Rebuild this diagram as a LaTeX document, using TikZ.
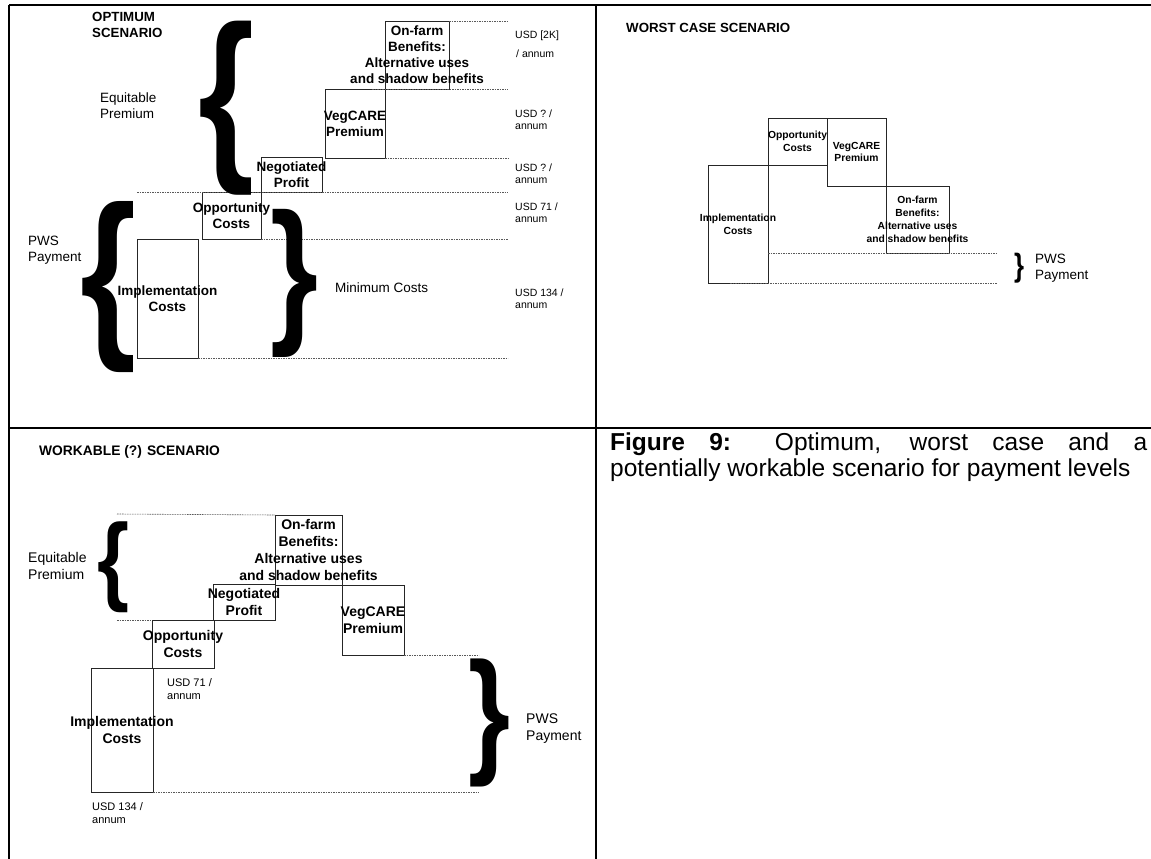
\documentclass[tikz,border=0pt]{standalone}
\usepackage{fontspec}
\setmainfont{Liberation Sans}
\usepackage{graphicx}
\newcommand{\mybrace}[3]{\resizebox*{#1}{#2}{\bfseries #3}}
\tikzset{
  frame/.style={line width=2pt, black},
  box/.style={draw=black!85, line width=0.8pt, inner sep=0pt, outer sep=0pt},
  guide/.style={draw=black!65, line width=0.6pt, dash pattern=on 1.6pt off 0.9pt},
  brc/.style={inner sep=0pt, outer sep=0pt},
  ttl/.style={font=\fontsize{13.3}{16.5}\selectfont\bfseries, align=left, inner sep=0pt, anchor=west},
  blA/.style={font=\fontsize{13.5}{16}\selectfont\bfseries, align=center, inner sep=0pt},
  blB/.style={font=\fontsize{10.3}{12.8}\selectfont\bfseries, align=center, inner sep=0pt},
  blC/.style={font=\fontsize{14}{16.8}\selectfont\bfseries, align=center, inner sep=0pt},
  rtA/.style={font=\fontsize{13.5}{16}\selectfont, align=left, inner sep=0pt, anchor=west},
  rtC/.style={font=\fontsize{14}{17}\selectfont, align=left, inner sep=0pt, anchor=west},
  usd/.style={font=\fontsize{10.5}{12}\selectfont, align=left, inner sep=0pt, anchor=west},
  usdC/.style={font=\fontsize{11}{13.5}\selectfont, align=left, inner sep=0pt, anchor=west},
  captxt/.style={font=\fontsize{24.5}{26}\selectfont, inner sep=0pt, anchor=base west},
}
\begin{document}
\begin{tikzpicture}[x=1pt,y=-1pt]
\useasboundingbox (0,0) rectangle (1151,859);
% ---------- table frame ----------
\coordinate (fTL) at (9,5);
\coordinate (fTR) at (1151,5);
\coordinate (fBL) at (9,859);
\coordinate (fMT) at (596,5);
\coordinate (fMB) at (596,859);
\coordinate (fML) at (9,428);
\coordinate (fMR) at (1151,428);
\draw[frame] (fTL) -- (fTR);
\draw[frame] (fTL) -- (fBL);
\draw[frame] (fMT) -- (fMB);
\draw[frame] (fML) -- (fMR);

% ================= OPTIMUM SCENARIO =================
\node[ttl] (t1) at (92,25) {OPTIMUM\\SCENARIO};
\node[rtA] (t1eq) at (100,106) {Equitable\\Premium};
\node[rtA] (t1pws) at (28,250.5) {PWS\\Payment};
\node[rtA] (t1min) at (335,288) {Minimum Costs};

\node[box, minimum width=61pt, minimum height=35pt] (aneg) at (291.5,174.5) {};
\node[box, minimum width=60pt, minimum height=69pt] (aveg) at (355,123.5) {};
\node[box, minimum width=64pt, minimum height=68pt] (afarm) at (417,55) {};
\node[box, minimum width=59pt, minimum height=47pt] (aopp) at (231.5,215.5) {};
\node[box, minimum width=61pt, minimum height=119pt] (aimp) at (167.5,298.5) {};

\node[blA] (aneg-l) at (aneg) {Negotiated\\Profit};
\node[blA] (aveg-l) at (aveg) {VegCARE\\Premium};
\node[blA] (afarm-l) at (afarm) {On-farm\\Benefits:\\Alternative uses\\and shadow benefits};
\node[blA] (aopp-l) at (aopp) {Opportunity\\Costs};
\node[blA] (aimp-l) at (aimp) {Implementation\\Costs};

\coordinate (ag1) at (508,21);
\coordinate (ag2a) at (372,89);
\coordinate (ag2b) at (508,89);
\coordinate (ag3) at (508,158);
\coordinate (ag4a) at (137,192);
\coordinate (ag4b) at (508,192);
\coordinate (ag5) at (508,239);
\coordinate (ag6) at (508,358);
\draw[guide] (afarm.north east) -- (ag1);
\draw[guide] (ag2a) -- (ag2b);
\draw[guide] (aveg.south east) -- (ag3);
\draw[guide] (ag4a) -- (ag4b);
\draw[guide] (aopp.south east) -- (ag5);
\draw[guide] (aimp.south east) -- (ag6);

\node[usd] (u1a) at (515,36) {USD [2K]};
\node[usd] (u1b) at (516,54) {/ annum};
\node[usd] (u2) at (515,119.5) {USD ? /\\annum};
\node[usd] (u3) at (515,174) {USD ? /\\annum};
\node[usd] (u4) at (515,212.5) {USD 71 /\\annum};
\node[usd] (u5) at (515,298.5) {USD 134 /\\annum};

\node[brc] (b1) at (227,108) {\mybrace{56pt}{174pt}{\{}};
\node[brc] (b2) at (109,287.5) {\mybrace{56pt}{171pt}{\{}};
\node[brc] (b3) at (294.5,283) {\mybrace{48pt}{148pt}{\}}};

% ================= WORST CASE SCENARIO =================
\node[ttl] (t2) at (626,28) {WORST CASE SCENARIO};

\node[box, minimum width=59pt, minimum height=47pt] (bopp) at (797.5,141.5) {};
\node[box, minimum width=59pt, minimum height=68pt] (bveg) at (856.5,152) {};
\node[box, minimum width=63pt, minimum height=67pt] (bfarm) at (917.5,219.5) {};
\node[box, minimum width=60pt, minimum height=118pt] (bimp) at (738,224) {};

\node[blB] (bopp-l) at (bopp) {Opportunity\\Costs};
\node[blB] (bveg-l) at (bveg) {VegCARE\\Premium};
\node[blB] (bfarm-l) at (bfarm) {On-farm\\Benefits:\\Alternative uses\\and shadow benefits};
\node[blB] (bimp-l) at (bimp) {Implementation\\Costs};

\coordinate (bg1a) at (768,253);
\coordinate (bg1b) at (997,253);
\coordinate (bg2a) at (730,283);
\coordinate (bg2b) at (997,283);
\draw[guide] (bg1a) -- (bg1b);
\draw[guide] (bg2a) -- (bg2b);

\node[brc] (b4) at (1019,268) {\mybrace{10pt}{30pt}{\}}};
\node[rtA] (t2pws) at (1035,268.5) {PWS\\Payment};

% ================= WORKABLE SCENARIO =================
\node[ttl, font=\fontsize{13.8}{16.5}\selectfont\bfseries] (t3) at (39,452) {WORKABLE (?) SCENARIO};
\node[rtC] (t3eq) at (28,566) {Equitable\\Premium};
\node[rtC] (t3pws) at (526,728.5) {PWS\\Payment};

\node[box, minimum width=67pt, minimum height=70pt] (cfarm) at (308.5,550) {};
\node[box, minimum width=62pt, minimum height=36pt] (cneg) at (244,602) {};
\node[box, minimum width=62pt, minimum height=48pt] (copp) at (183,644) {};
\node[box, minimum width=62pt, minimum height=70pt] (cveg) at (373,620) {};
\node[box, minimum width=62pt, minimum height=124pt] (cimp) at (122,730) {};

\node[blC] (cfarm-l) at (cfarm) {On-farm\\Benefits:\\Alternative uses\\and shadow benefits};
\node[blC] (cneg-l) at (cneg) {Negotiated\\Profit};
\node[blC] (copp-l) at (copp) {Opportunity\\Costs};
\node[blC] (cveg-l) at (cveg) {VegCARE\\Premium};
\node[blC] (cimp-l) at (cimp) {Implementation\\Costs};

\coordinate (cg1a) at (117,514);
\coordinate (cg2a) at (117,620);
\coordinate (cg3b) at (479,655);
\coordinate (cg4b) at (479,792);
\draw[guide] (cg1a) -- (cfarm.north west);
\draw[guide] (cg2a) -- (copp.north west);
\draw[guide] (cveg.south east) -- (cg3b);
\draw[guide] (cimp.south east) -- (cg4b);

\node[usdC] (cu1) at (167,689) {USD 71 /\\annum};
\node[usdC] (cu2) at (92,813) {USD 134 /\\annum};

\node[brc] (b5) at (113.5,567) {\mybrace{32pt}{91pt}{\{}};
\node[brc] (b6) at (489.5,722.5) {\mybrace{42pt}{128pt}{\}}};

% ================= CAPTION =================
\node[captxt] (cap1) at (610,450) {\makebox[537pt][s]{\textbf{Figure 9:} Optimum, worst case and a}};
\node[captxt] (cap2) at (610,476) {potentially workable scenario for payment levels};
\end{tikzpicture}
\end{document}
